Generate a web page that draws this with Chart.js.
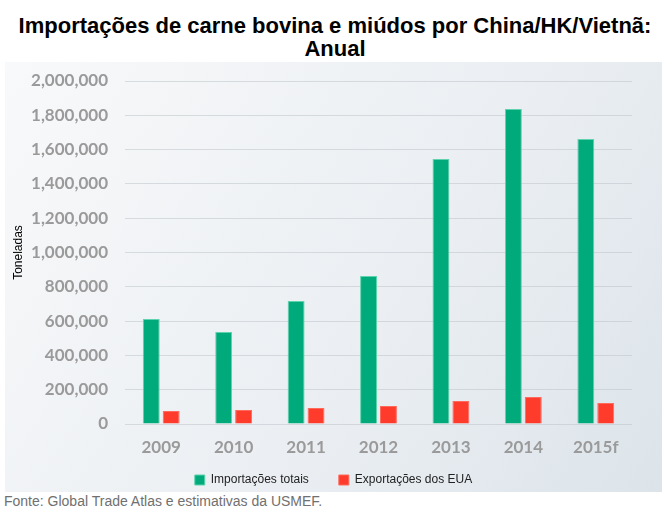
<!DOCTYPE html>
<html>
<head>
<meta charset="utf-8">
<script src="https://cdn.jsdelivr.net/npm/chart.js@4/dist/chart.umd.min.js"></script>
<style>
  body { margin: 0; width: 670px; height: 517px; background: #fff; position: relative; font-family: "Liberation Sans", Arial, sans-serif; }
  #title { position: absolute; left: 0; top: 14px; width: 670px; text-align: center; font-weight: bold; font-size: 22px; line-height: 23px; color: #000; }
  #panel { position: absolute; left: 5px; top: 62px; width: 657px; height: 430px; }
  #note { position: absolute; left: 4px; top: 493px; font-size: 14px; color: #707070; }
</style>
</head>
<body>
<div id="title">Importações de carne bovina e miúdos por China/HK/Vietnã:<br>Anual</div>
<div id="panel"><canvas id="chart" width="657" height="430"></canvas></div>
<div id="note">Fonte: Global Trade Atlas e estimativas da USMEF.</div>
<script>
var years = ['2009', '2010', '2011', '2012', '2013', '2014', '2015f'];
var importacoes = [612000, 536000, 717000, 863000, 1545000, 1837000, 1662000];
var exportacoesEUA = [76000, 82000, 93000, 105000, 134000, 157000, 122000];

var panelBackground = {
    id: 'panelBackground',
    beforeDraw: function( chart ){
        var ctx = chart.ctx;
        var g = ctx.createLinearGradient( 0, 0, chart.width, chart.height );
        g.addColorStop( 0, '#f8f9fa' );
        g.addColorStop( 0.6, '#eaeef2' );
        g.addColorStop( 1, '#dce4ea' );
        ctx.save();
        ctx.fillStyle = g;
        ctx.fillRect( 0, 0, chart.width, chart.height );
        ctx.restore();
    }
};

var ctx = document.getElementById( 'chart' ).getContext( '2d' );
var myBarChart = new Chart( ctx, {
    type: 'bar',
    data: {
        labels: years,
        datasets: [{
            label: 'Importações totais',
            data: importacoes,
            backgroundColor: '#00aa7a',
            borderColor: '#5fd3ad',
            borderWidth: 1,
            categoryPercentage: 0.55,
            barPercentage: 0.85
        }, {
            label: 'Exportações dos EUA',
            data: exportacoesEUA,
            backgroundColor: '#ff3b2b',
            borderColor: '#ff6a5c',
            borderWidth: 1,
            categoryPercentage: 0.55,
            barPercentage: 0.85
        }]
    },
    options: {
        responsive: false,
        animation: false,
        layout: { padding: { left: 0, right: 0, top: 19, bottom: -4 } },
        plugins: {
            legend: {
                position: 'bottom',
                labels: {
                    boxWidth: 10,
                    boxHeight: 10,
                    padding: 30,
                    color: '#222',
                    font: { family: 'Liberation Sans', size: 12 }
                }
            },
            tooltip: { enabled: false }
        },
        scales: {
            x: {
                grid: { display: false, drawTicks: false },
                border: { display: false },
                ticks: {
                    // mirror keeps the labels from being clipped to the short axis box
                    mirror: true,
                    crossAlign: 'center',
                    padding: -24,
                    color: '#9a9a9a',
                    font: { family: 'Lato', size: 17, weight: 'bold', lineHeight: 1 }
                },
                afterFit: function( scale ){ scale.height = 20; }
            },
            y: {
                min: 0,
                max: 2000000,
                ticks: {
                    stepSize: 200000,
                    padding: 0,
                    color: '#9a9a9a',
                    font: { family: 'Lato', size: 17, weight: 'bold' },
                    callback: function( v ){ return v.toLocaleString( 'en-US' ); }
                },
                grid: { color: 'rgba(190,196,202,0.55)', drawTicks: true, tickLength: 17, tickColor: 'rgba(0,0,0,0)' },
                border: { display: false },
                title: {
                    display: true,
                    text: 'Toneladas',
                    color: '#000',
                    padding: 6,
                    font: { family: 'Liberation Sans', size: 12 }
                },
                afterFit: function( scale ){ scale.width = 120; }
            },
            spacer: {
                position: 'right',
                display: true,
                ticks: { display: false },
                grid: { display: false },
                border: { display: false },
                afterFit: function( scale ){ scale.width = 30; }
            }
        }
    },
    plugins: [ panelBackground ]
});
</script>
</body>
</html>
